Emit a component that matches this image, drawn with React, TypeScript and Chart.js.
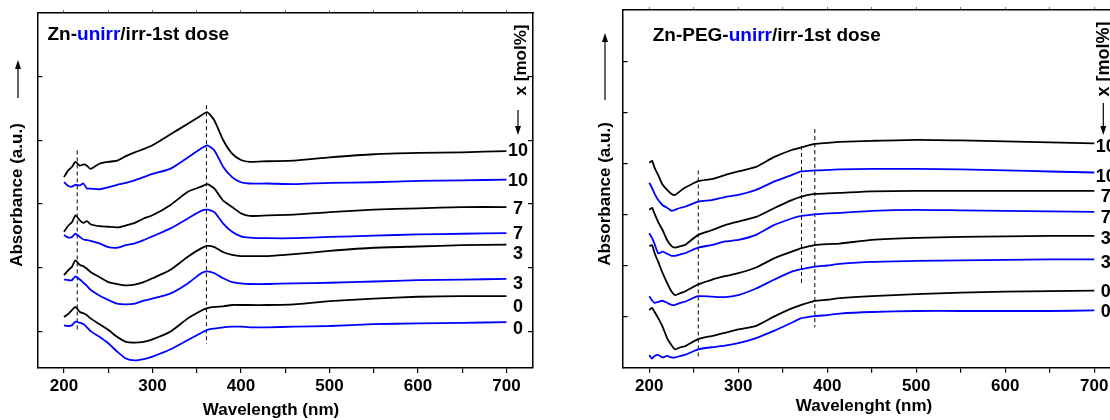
import React, { useEffect, useRef } from "react";
import { Chart, registerables } from "chart.js";

Chart.register(...registerables);

const FONT = '"Liberation Sans", Arial, Helvetica, sans-serif';
const BLACK = "#000000";
const BLUE = "#0000ff";

// ---------------- Left panel: Zn-unirr/irr-1st dose ----------------
const LEFT_WL = [200, 205, 209, 213, 218, 222, 226, 230, 240, 250, 260, 270, 280, 290, 300, 320, 340, 355, 362, 370, 380, 390, 400, 410, 430, 460, 500, 550, 600, 650, 700];
const LEFT_IRR_10 = [3.42, 3.53, 3.58, 3.66, 3.6, 3.62, 3.6, 3.55, 3.63, 3.66, 3.68, 3.75, 3.81, 3.86, 3.92, 4.09, 4.26, 4.39, 4.44, 4.31, 4.0, 3.79, 3.69, 3.66, 3.67, 3.68, 3.73, 3.78, 3.8, 3.81, 3.83];
const LEFT_UNIRR_10 = [3.34, 3.28, 3.27, 3.3, 3.29, 3.32, 3.24, 3.24, 3.23, 3.26, 3.3, 3.33, 3.37, 3.42, 3.47, 3.55, 3.73, 3.87, 3.92, 3.84, 3.58, 3.42, 3.34, 3.32, 3.32, 3.31, 3.33, 3.34, 3.36, 3.37, 3.38];
const LEFT_IRR_7 = [2.56, 2.66, 2.71, 2.82, 2.74, 2.7, 2.73, 2.68, 2.65, 2.64, 2.63, 2.66, 2.7, 2.77, 2.82, 2.98, 3.19, 3.27, 3.31, 3.24, 3.05, 2.95, 2.85, 2.81, 2.82, 2.83, 2.87, 2.91, 2.93, 2.95, 2.95];
const LEFT_UNIRR_7 = [2.51, 2.47, 2.48, 2.53, 2.48, 2.44, 2.43, 2.42, 2.38, 2.32, 2.31, 2.35, 2.38, 2.43, 2.49, 2.61, 2.77, 2.89, 2.91, 2.87, 2.69, 2.56, 2.49, 2.47, 2.46, 2.46, 2.48, 2.5, 2.52, 2.53, 2.54];
const LEFT_IRR_3 = [1.88, 1.96, 2.01, 2.11, 2.04, 2.02, 1.98, 1.93, 1.85, 1.77, 1.74, 1.72, 1.73, 1.77, 1.83, 1.96, 2.17, 2.3, 2.34, 2.32, 2.24, 2.2, 2.18, 2.18, 2.18, 2.21, 2.26, 2.31, 2.33, 2.35, 2.36];
const LEFT_UNIRR_3 = [1.81, 1.8, 1.8, 1.86, 1.81, 1.76, 1.71, 1.65, 1.56, 1.49, 1.43, 1.42, 1.43, 1.48, 1.51, 1.59, 1.75, 1.91, 1.94, 1.91, 1.83, 1.77, 1.75, 1.74, 1.74, 1.75, 1.76, 1.78, 1.8, 1.81, 1.82];
const LEFT_IRR_0 = [1.22, 1.27, 1.33, 1.38, 1.3, 1.28, 1.25, 1.2, 1.11, 1.02, 0.91, 0.83, 0.82, 0.83, 0.87, 0.99, 1.2, 1.32, 1.36, 1.38, 1.39, 1.41, 1.41, 1.41, 1.41, 1.42, 1.47, 1.51, 1.54, 1.55, 1.55];
const LEFT_UNIRR_0 = [1.09, 1.08, 1.09, 1.15, 1.13, 1.11, 1.06, 1.0, 0.91, 0.81, 0.68, 0.57, 0.54, 0.56, 0.6, 0.71, 0.86, 0.97, 1.02, 1.04, 1.06, 1.07, 1.07, 1.06, 1.06, 1.07, 1.08, 1.11, 1.12, 1.13, 1.14];
const LEFT_LABELS = ["10", "10", "7", "7", "3", "3", "0", "0"];
const LEFT_LABEL_Y = [3.83, 3.36, 2.92, 2.53, 2.21, 1.74, 1.38, 1.04];
const LEFT_DASH_X = [215, 361];
const LEFT_DASH_TOP = [3.84, 4.55];
const LEFT_DASH_BOTTOM = [0.98, 0.8];
const LEFT_Y_TICKS = [1, 2, 3, 4, 5];

// ---------------- Right panel: Zn-PEG-unirr/irr-1st dose ----------------
const RIGHT_WL = [200, 203, 206, 210, 215, 220, 225, 229, 235, 240, 255, 270, 285, 300, 320, 340, 360, 371, 386, 400, 414, 450, 500, 550, 600, 650, 700];
const RIGHT_IRR_10 = [4.01, 4.05, 3.91, 3.77, 3.58, 3.48, 3.4, 3.38, 3.46, 3.52, 3.65, 3.69, 3.77, 3.84, 3.93, 4.12, 4.26, 4.31, 4.38, 4.4, 4.42, 4.44, 4.46, 4.45, 4.43, 4.41, 4.39];
const RIGHT_UNIRR_10 = [3.62, 3.52, 3.4, 3.28, 3.18, 3.13, 3.07, 3.09, 3.13, 3.15, 3.25, 3.28, 3.34, 3.38, 3.48, 3.64, 3.77, 3.84, 3.86, 3.87, 3.88, 3.89, 3.89, 3.88, 3.86, 3.84, 3.82];
const RIGHT_IRR_7 = [3.09, 3.13, 3.01, 2.85, 2.69, 2.5, 2.38, 2.35, 2.38, 2.4, 2.6, 2.69, 2.79, 2.86, 2.95, 3.12, 3.28, 3.35, 3.4, 3.41, 3.42, 3.45, 3.46, 3.46, 3.46, 3.46, 3.46];
const RIGHT_UNIRR_7 = [2.63, 2.54, 2.42, 2.24, 2.27, 2.23, 2.19, 2.19, 2.22, 2.24, 2.35, 2.4, 2.47, 2.5, 2.6, 2.79, 2.92, 2.97, 3.0, 3.02, 3.03, 3.07, 3.09, 3.08, 3.07, 3.06, 3.05];
const RIGHT_IRR_3 = [2.38, 2.4, 2.24, 2.07, 1.85, 1.66, 1.49, 1.42, 1.46, 1.49, 1.63, 1.72, 1.79, 1.85, 1.96, 2.14, 2.27, 2.34, 2.4, 2.42, 2.43, 2.5, 2.54, 2.56, 2.57, 2.58, 2.58];
const RIGHT_UNIRR_3 = [1.4, 1.32, 1.27, 1.29, 1.31, 1.27, 1.23, 1.23, 1.27, 1.29, 1.4, 1.39, 1.38, 1.42, 1.55, 1.72, 1.88, 1.93, 1.98, 2.0, 2.03, 2.07, 2.09, 2.1, 2.11, 2.12, 2.12];
const RIGHT_IRR_0 = [1.13, 1.17, 1.09, 0.97, 0.8, 0.58, 0.44, 0.36, 0.4, 0.42, 0.56, 0.62, 0.68, 0.75, 0.82, 1.0, 1.16, 1.23, 1.31, 1.33, 1.36, 1.4, 1.44, 1.47, 1.49, 1.5, 1.51];
const RIGHT_UNIRR_0 = [0.25, 0.18, 0.23, 0.25, 0.2, 0.23, 0.2, 0.2, 0.23, 0.25, 0.36, 0.4, 0.43, 0.48, 0.58, 0.72, 0.88, 0.97, 1.01, 1.03, 1.06, 1.09, 1.11, 1.11, 1.11, 1.11, 1.12];
const RIGHT_LABELS = ["10", "10", "7", "7", "3", "3", "0", "0"];
const RIGHT_LABEL_Y = [4.32, 3.74, 3.34, 2.93, 2.51, 2.04, 1.49, 1.09];
const RIGHT_DASH_X = [255, 371, 386];
const RIGHT_DASH_TOP = [3.86, 4.34, 4.67];
const RIGHT_DASH_BOTTOM = [0.18, 1.65, 0.79];
const RIGHT_Y_TICKS = [1, 2, 3, 4, 5, 6];

const X_TICKS = [200, 250, 300, 350, 400, 450, 500, 550, 600, 650, 700];
const LABEL_WL = 713;
const SERIES_COLORS = [BLACK, BLUE, BLACK, BLUE, BLACK, BLUE, BLACK, BLUE];

type Seg = [string, string];
type Spec = {
  wl: number[];
  series: number[][];
  labels: string[];
  labelY: number[];
  dashX: number[];
  dashTop: number[];
  dashBottom: number[];
  yMin: number;
  yMax: number;
  yTicks: number[];
  title: Seg[];
  xTitle: string;
  canvasLeft: number;
  canvasWidth: number;
  pad: { left: number; right: number; top: number };
  xAxisHeight: number;
  titlePos: [number, number];
  yTitlePos: [number, number];
  yArrow: [number, number, number];
  molPos: [number, number, number];
  molArrow: [number, number, number];
  xTitlePos: [number, number];
};

const LEFT_SPEC: Spec = {
  wl: LEFT_WL,
  series: [LEFT_IRR_10, LEFT_UNIRR_10, LEFT_IRR_7, LEFT_UNIRR_7, LEFT_IRR_3, LEFT_UNIRR_3, LEFT_IRR_0, LEFT_UNIRR_0],
  labels: LEFT_LABELS,
  labelY: LEFT_LABEL_Y,
  dashX: LEFT_DASH_X,
  dashTop: LEFT_DASH_TOP,
  dashBottom: LEFT_DASH_BOTTOM,
  yMin: 0.42,
  yMax: 6,
  yTicks: LEFT_Y_TICKS,
  title: [["Zn-", BLACK], ["unirr", BLUE], ["/irr-1st dose", BLACK]],
  xTitle: "Wavelength (nm)",
  canvasLeft: 0,
  canvasWidth: 555,
  pad: { left: 37.4, right: 22, top: 13 },
  xAxisHeight: 52,
  titlePos: [47.5, 40],
  yTitlePos: [17.5, 195],
  yArrow: [18, 98, 60],
  molPos: [521, 60, 17],
  molArrow: [518, 110, 135],
  xTitlePos: [271, 415],
};

const RIGHT_SPEC: Spec = {
  wl: RIGHT_WL,
  series: [RIGHT_IRR_10, RIGHT_UNIRR_10, RIGHT_IRR_7, RIGHT_UNIRR_7, RIGHT_IRR_3, RIGHT_UNIRR_3, RIGHT_IRR_0, RIGHT_UNIRR_0],
  labels: RIGHT_LABELS,
  labelY: RIGHT_LABEL_Y,
  dashX: RIGHT_DASH_X,
  dashTop: RIGHT_DASH_TOP,
  dashBottom: RIGHT_DASH_BOTTOM,
  yMin: 0,
  yMax: 7,
  yTicks: RIGHT_Y_TICKS,
  title: [["Zn-PEG-", BLACK], ["unirr", BLUE], ["/irr-1st dose", BLACK]],
  xTitle: "Wavelenght (nm)",
  canvasLeft: 560,
  canvasWidth: 580,
  pad: { left: 62.6, right: 19, top: 10 },
  xAxisHeight: 52.3,
  titlePos: [92.7, 40.7],
  yTitlePos: [45, 194],
  yArrow: [45, 100, 33],
  molPos: [544, 59, 18],
  molArrow: [543.3, 103, 135],
  xTitlePos: [304, 411],
};

function drawArrow(ctx: CanvasRenderingContext2D, x: number, yFrom: number, yTip: number) {
  const dir = Math.sign(yTip - yFrom);
  ctx.beginPath();
  ctx.moveTo(x, yFrom);
  ctx.lineTo(x, yTip - dir * 6);
  ctx.lineWidth = 1.2;
  ctx.strokeStyle = BLACK;
  ctx.stroke();
  ctx.beginPath();
  ctx.moveTo(x, yTip);
  ctx.lineTo(x - 3, yTip - dir * 9);
  ctx.lineTo(x + 3, yTip - dir * 9);
  ctx.closePath();
  ctx.fillStyle = BLACK;
  ctx.fill();
}

function makeTextPlugin(spec: Spec) {
  return {
    id: "panelTexts",
    afterDraw(chart: any) {
      const ctx: CanvasRenderingContext2D = chart.ctx;
      const xs = chart.scales.x;
      const ys = chart.scales.y;
      ctx.save();
      // curve labels
      ctx.font = `bold 18px ${FONT}`;
      ctx.fillStyle = BLACK;
      ctx.textAlign = "center";
      ctx.textBaseline = "middle";
      spec.labels.forEach((t, i) => {
        ctx.fillText(t, xs.getPixelForValue(LABEL_WL), ys.getPixelForValue(spec.labelY[i]));
      });
      // title
      ctx.font = `bold 19px ${FONT}`;
      ctx.textAlign = "left";
      ctx.textBaseline = "alphabetic";
      let tx = spec.titlePos[0];
      spec.title.forEach(([t, c]) => {
        ctx.fillStyle = c;
        ctx.fillText(t, tx, spec.titlePos[1]);
        tx += ctx.measureText(t).width;
      });
      // y title
      ctx.fillStyle = BLACK;
      ctx.font = `bold 17px ${FONT}`;
      ctx.save();
      ctx.translate(spec.yTitlePos[0], spec.yTitlePos[1]);
      ctx.rotate(-Math.PI / 2);
      ctx.textAlign = "center";
      ctx.textBaseline = "middle";
      ctx.fillText("Absorbance (a.u.)", 0, 0);
      ctx.restore();
      drawArrow(ctx, spec.yArrow[0], spec.yArrow[1], spec.yArrow[2]);
      // x [mol%]
      ctx.font = `bold ${spec.molPos[2]}px ${FONT}`;
      ctx.save();
      ctx.translate(spec.molPos[0], spec.molPos[1]);
      ctx.rotate(-Math.PI / 2);
      ctx.textAlign = "center";
      ctx.textBaseline = "middle";
      ctx.fillText("x [mol%]", 0, 0);
      ctx.restore();
      drawArrow(ctx, spec.molArrow[0], spec.molArrow[1], spec.molArrow[2]);
      // x title
      ctx.font = `bold 17px ${FONT}`;
      ctx.textAlign = "center";
      ctx.textBaseline = "alphabetic";
      ctx.fillText(spec.xTitle, spec.xTitlePos[0], spec.xTitlePos[1]);
      ctx.restore();
    },
  };
}

function buildConfig(spec: Spec): any {
  const datasets: any[] = spec.series.map((vals, i) => ({
    label: `${spec.labels[i]}`,
    data: spec.wl.map((x, j) => ({ x, y: vals[j] })),
    borderColor: SERIES_COLORS[i],
    backgroundColor: SERIES_COLORS[i],
    borderWidth: 1.8,
    pointRadius: 0,
    tension: 0.2,
    fill: false,
  }));
  spec.dashX.forEach((x, i) => {
    datasets.push({
      label: `dash${i}`,
      data: [
        { x, y: spec.dashTop[i] },
        { x, y: spec.dashBottom[i] },
      ],
      borderColor: BLACK,
      borderWidth: 1,
      borderDash: [4, 3],
      pointRadius: 0,
      tension: 0,
      fill: false,
    });
  });
  const fixH = (h: number) => (s: any) => {
    s.height = h;
  };
  const zeroW = (s: any) => {
    s.width = 0;
  };
  const setXTicks = (s: any) => {
    s.ticks = X_TICKS.map((v) => ({ value: v }));
  };
  const setYTicks = (s: any) => {
    s.ticks = spec.yTicks.map((v) => ({ value: v }));
  };
  const border = { display: true, color: BLACK, width: 1.5 };
  return {
    type: "line",
    data: { datasets },
    options: {
      responsive: false,
      animation: false,
      devicePixelRatio: 1,
      layout: { padding: { left: spec.pad.left, right: spec.pad.right, top: spec.pad.top, bottom: 0 } },
      plugins: { legend: { display: false }, tooltip: { enabled: false }, title: { display: false } },
      scales: {
        x: {
          type: "linear",
          position: "bottom",
          min: 170,
          max: 730,
          afterFit: fixH(spec.xAxisHeight),
          afterBuildTicks: setXTicks,
          ticks: {
            autoSkip: false,
            maxRotation: 0,
            minRotation: 0,
            padding: 3,
            color: BLACK,
            font: { family: FONT, size: 17, weight: "bold" },
            callback: (v: number) => (v % 100 === 0 ? String(v) : ""),
          },
          grid: { display: true, drawOnChartArea: false, drawTicks: true, tickLength: 5, color: BLACK, lineWidth: 1.2 },
          border,
        },
        xTop: {
          type: "linear",
          position: "top",
          min: 170,
          max: 730,
          afterFit: fixH(0),
          afterBuildTicks: setXTicks,
          ticks: { display: false },
          grid: { display: true, drawOnChartArea: false, drawTicks: true, tickLength: 3, color: "#777", lineWidth: 1 },
          border,
        },
        y: {
          type: "linear",
          position: "left",
          min: spec.yMin,
          max: spec.yMax,
          afterFit: zeroW,
          afterBuildTicks: setYTicks,
          ticks: { display: false },
          grid: { display: true, drawOnChartArea: false, drawTicks: true, tickLength: -5, color: BLACK, lineWidth: 1.2 },
          border,
        },
        yRight: {
          type: "linear",
          position: "right",
          min: spec.yMin,
          max: spec.yMax,
          afterFit: zeroW,
          afterBuildTicks: setYTicks,
          ticks: { display: false },
          grid: { display: true, drawOnChartArea: false, drawTicks: true, tickLength: -5, color: BLACK, lineWidth: 1.2 },
          border,
        },
      },
    },
    plugins: [makeTextPlugin(spec)],
  };
}

function Panel({ spec }: { spec: Spec }) {
  const ref = useRef<HTMLCanvasElement>(null);
  useEffect(() => {
    if (!ref.current) return;
    const chart = new Chart(ref.current, buildConfig(spec));
    return () => chart.destroy();
  }, [spec]);
  return (
    <canvas
      ref={ref}
      width={spec.canvasWidth}
      height={420}
      style={{ position: "absolute", left: spec.canvasLeft, top: 0, width: spec.canvasWidth, height: 420 }}
    />
  );
}

export default function App() {
  return (
    <div
      style={{
        position: "fixed",
        left: 0,
        top: 0,
        width: 1110,
        height: 420,
        overflow: "hidden",
        background: "#ffffff",
      }}
    >
      <Panel spec={LEFT_SPEC} />
      <Panel spec={RIGHT_SPEC} />
    </div>
  );
}
